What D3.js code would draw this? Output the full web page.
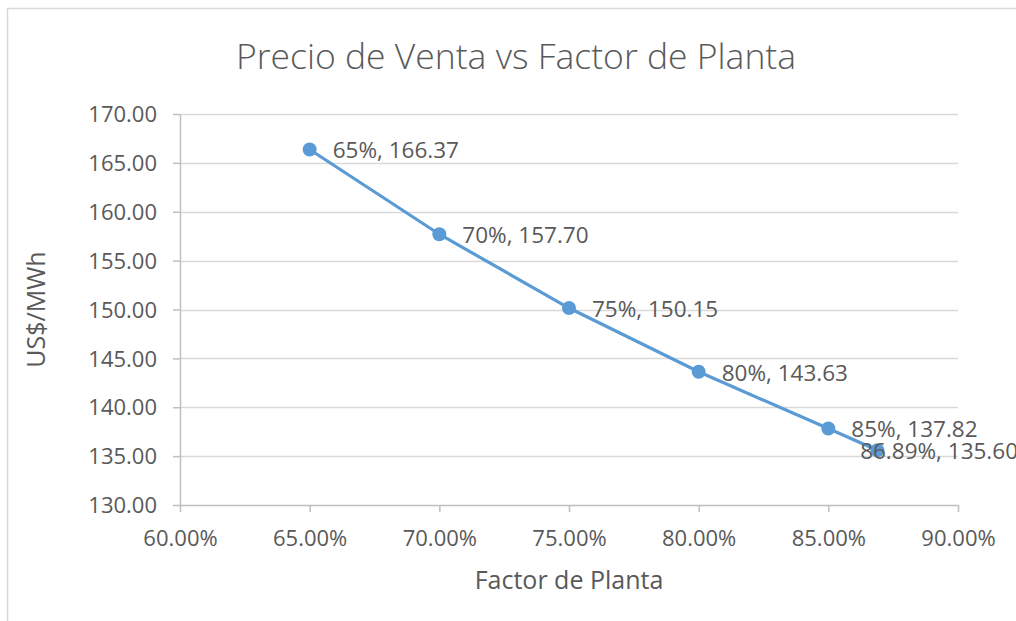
<!DOCTYPE html>
<html>
<head>
<meta charset="utf-8">
<script src="https://cdn.jsdelivr.net/npm/d3@7"></script>
<style>
  body { margin: 0; background: #fff; }
  svg text { font-family: "Open Sans", sans-serif; fill: #595959; }
</style>
</head>
<body>
<div id="chart"></div>
<script>
// Data
const factor = [0.65, 0.70, 0.75, 0.80, 0.85, 0.8689];
const precio = [166.37, 157.70, 150.15, 143.63, 137.82, 135.60];
const factorLabels = ["65%", "70%", "75%", "80%", "85%", "86.89%"];
const xTicks = [0.60, 0.65, 0.70, 0.75, 0.80, 0.85, 0.90];
const yTicks = [130, 135, 140, 145, 150, 155, 160, 165, 170];

const chartTitle = "Precio de Venta vs Factor de Planta";
const xTitle = "Factor de Planta";
const yTitle = "US$/MWh";

const width = 1016;
const height = 621;
const margin = {top: 114, right: 58, bottom: 116, left: 180};
const graphWidth = width - margin.left - margin.right;
const graphHeight = height - margin.top - margin.bottom;
const blue = "#5b9bd5";

const svg = d3.select("#chart").append("svg")
    .attr("width", width)
    .attr("height", height);

// chart border (only top/left visible, the rest is cut off)
svg.append("rect")
    .attr("x", 7.5).attr("y", 8.5)
    .attr("width", 1100).attr("height", 800)
    .attr("fill", "none")
    .attr("stroke", "#d9d9d9")
    .attr("stroke-width", 1.5);

const x = d3.scaleLinear().domain([0.60, 0.90]).range([0, graphWidth]);
const y = d3.scaleLinear().domain([130, 170]).range([graphHeight, 0]);

const graph = svg.append("g")
    .attr("transform", `translate(${margin.left}, ${margin.top})`);

// horizontal gridlines
graph.append("g").selectAll("line")
    .data(yTicks.filter(d => d !== 130))
    .enter().append("line")
    .attr("x1", 0).attr("x2", graphWidth)
    .attr("y1", d => Math.round(y(d)) + 0.5)
    .attr("y2", d => Math.round(y(d)) + 0.5)
    .attr("stroke", "#d9d9d9")
    .attr("stroke-width", 1.5);

const xAxis = d3.axisBottom(x)
    .tickValues(xTicks)
    .tickFormat(d => (d * 100).toFixed(2) + "%")
    .tickSizeInner(7)
    .tickSizeOuter(0)
    .tickPadding(18);

const yAxis = d3.axisLeft(y)
    .tickValues(yTicks)
    .tickFormat(d => d.toFixed(2))
    .tickSizeInner(7)
    .tickSizeOuter(0)
    .tickPadding(16);

const gXAxis = graph.append("g")
    .attr("transform", `translate(0, ${graphHeight})`)
    .call(xAxis);
const gYAxis = graph.append("g").call(yAxis);

[gXAxis, gYAxis].forEach(g => {
    g.select(".domain").attr("stroke", "#bfbfbf").attr("stroke-width", 1.5);
    g.selectAll(".tick line").attr("stroke", "#bfbfbf").attr("stroke-width", 1.5);
    g.selectAll("text")
        .style("font-size", "22px")
        .style("font-family", "'Open Sans', sans-serif")
        .attr("fill", "#595959");
});
gYAxis.selectAll("text").attr("dy", "0.35em");

// series line
const pts = factor.map((f, i) => ({x: f, y: precio[i], label: factorLabels[i]}));

graph.append("path")
    .datum(pts)
    .attr("fill", "none")
    .attr("stroke", blue)
    .attr("stroke-width", 3.2)
    .attr("d", d3.line().x(d => x(d.x)).y(d => y(d.y)));

graph.selectAll("circle")
    .data(pts)
    .enter().append("circle")
    .attr("cx", d => x(d.x))
    .attr("cy", d => y(d.y))
    .attr("r", 7)
    .attr("fill", blue);

// data labels, pushed back inside the chart when they run off the edge
const labels = graph.selectAll(".dlabel")
    .data(pts)
    .enter().append("text")
    .attr("class", "dlabel")
    .style("font-size", "22.5px")
    .attr("dy", "0.35em")
    .text(d => d.label + ", " + d.y.toFixed(2));

labels.each(function (d) {
    const w = this.getComputedTextLength();
    let lx = x(d.x) + 23;
    const maxX = width - margin.left + 2 - w;
    if (lx > maxX) lx = maxX;
    d3.select(this).attr("x", lx).attr("y", y(d.y) + 1);
});

// titles
svg.append("text")
    .attr("x", 516).attr("y", 57)
    .attr("text-anchor", "middle")
    .attr("dy", "0.35em")
    .style("font-size", "35.5px")
    .style("font-weight", 300)
    .text(chartTitle);

svg.append("text")
    .attr("x", margin.left + graphWidth / 2).attr("y", 580)
    .attr("text-anchor", "middle")
    .attr("dy", "0.35em")
    .style("font-size", "25px")
    .text(xTitle);

svg.append("text")
    .attr("transform", `translate(36, ${margin.top + graphHeight / 2}) rotate(-90)`)
    .attr("text-anchor", "middle")
    .attr("dy", "0.35em")
    .style("font-size", "25px")
    .text(yTitle);
</script>
</body>
</html>
